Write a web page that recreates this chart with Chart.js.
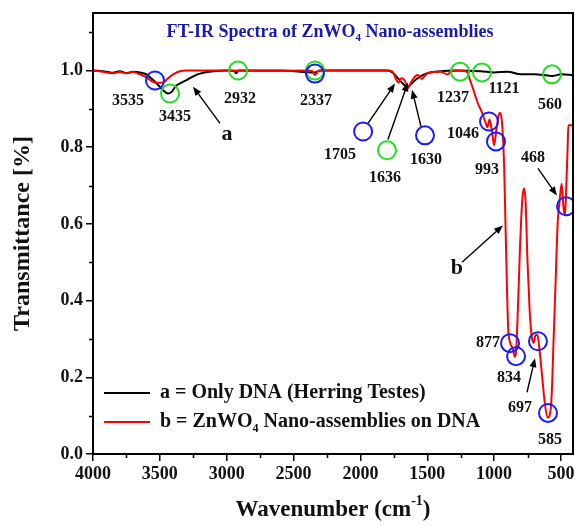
<!DOCTYPE html>
<html>
<head>
<meta charset="utf-8">
<script src="https://cdn.jsdelivr.net/npm/chart.js@4.4.0/dist/chart.umd.min.js"></script>
<style>
  html, body { margin: 0; padding: 0; background: #fff; }
</style>
</head>
<body>
<canvas id="c" width="575" height="526"></canvas>
<script>
'use strict';

// spectrum b: ZnWO4 nano-assemblies on DNA
var redWn = [4000, 3950, 3900, 3850, 3800, 3750, 3700, 3650, 3600, 3560, 3520, 3480, 3440, 3400, 3350, 3300,
  3000, 2700, 2400, 2360, 2340, 2320, 2300, 2000, 1800, 1760, 1730, 1715, 1695, 1670, 1645, 1620, 1590, 1570,
  1540, 1510, 1480, 1400, 1350, 1320, 1240, 1200, 1180, 1158, 1121, 1090, 1060, 1050, 1035, 1015, 1000, 985,
  965, 955, 940, 925, 915, 905, 895, 880, 860, 845, 835, 820, 805, 790, 777, 765, 750, 735, 720, 705, 690,
  675, 660, 640, 620, 600, 585, 570, 555, 540, 525, 510, 495, 480, 470, 460, 450, 445, 430, 410];
var redT = [1.0, 0.998, 0.995, 0.993, 0.996, 0.993, 0.996, 0.99, 0.982, 0.972, 0.968, 0.968, 0.979, 0.99, 0.998, 1.0,
  1.0, 0.999, 1.0, 0.998, 0.988, 0.997, 1.0, 1.0, 1.0, 0.997, 0.975, 0.968, 0.98, 0.975, 0.955, 0.97, 0.985, 0.988,
  0.978, 0.99, 0.995, 0.997, 0.99, 0.998, 1.0, 0.995, 0.975, 0.953, 0.914, 0.89, 0.86, 0.852, 0.872, 0.84, 0.805, 0.84,
  0.885, 0.89, 0.86, 0.75, 0.6, 0.45, 0.33, 0.29, 0.275, 0.253, 0.27, 0.4, 0.55, 0.66, 0.693, 0.66, 0.5, 0.38, 0.31, 0.29, 0.31,
  0.31, 0.27, 0.2, 0.13, 0.095, 0.1, 0.15, 0.3, 0.45, 0.6, 0.66, 0.705, 0.64, 0.622, 0.7, 0.8, 0.857, 0.857, 0.857];

// spectrum a: only DNA (herring testes)
var blackWn = [4000, 3900, 3850, 3800, 3750, 3700, 3650, 3600, 3550, 3520, 3480, 3440, 3410, 3380, 3340, 3300,
  3250, 3200, 3100, 3000, 2940, 2930, 2910, 2600, 2340, 2300, 1800, 1760, 1720, 1680, 1650, 1620, 1580, 1540,
  1500, 1400, 1300, 1100, 1000, 900, 800, 700, 600, 560, 500, 410];
var blackT = [1.0, 0.997, 0.994, 0.998, 0.993, 0.997, 0.995, 0.99, 0.975, 0.965, 0.95, 0.94, 0.945, 0.96, 0.968, 0.975,
  0.985, 0.992, 0.998, 1.0, 0.998, 0.993, 1.0, 1.0, 0.995, 1.0, 1.0, 0.995, 0.98, 0.965, 0.957, 0.965, 0.978, 0.987,
  0.993, 0.998, 1.0, 0.998, 0.995, 0.997, 0.99, 0.99, 0.987, 0.986, 0.99, 0.988];

var xTicks = [4000, 3500, 3000, 2500, 2000, 1500, 1000, 500];
var xMinorTicks = [3750, 3250, 2750, 2250, 1750, 1250, 750];
var yTicks = [0, 0.2, 0.4, 0.6, 0.8, 1.0];
var yMinorTicks = [0.1, 0.3, 0.5, 0.7, 0.9, 1.1];

// marked bands
var greenWn = [3424, 2915, 2340, 1801, 1255, 1091, 567];
var greenT = [0.94, 1.0, 1.0, 0.792, 0.997, 0.995, 0.99];
var blueWn = [3536, 2340, 1980, 1517, 1038, 986, 462, 881, 836, 672, 597];
var blueT = [0.974, 0.992, 0.841, 0.831, 0.867, 0.815, 0.646, 0.289, 0.255, 0.294, 0.107];

var peakText = ['3535', '3435', '2932', '2337', '1705', '1636', '1630', '1237', '1121', '560', '1046', '993', '468', '877', '834', '697', '585'];
var peakWn = [3738, 3387, 2901, 2332, 2153, 1816, 1509, 1307, 926, 582, 1233, 1053, 709, 1046, 889, 807, 582];
var peakT = [0.922, 0.878, 0.927, 0.922, 0.781, 0.721, 0.768, 0.93, 0.953, 0.911, 0.836, 0.74, 0.771, 0.289, 0.198, 0.12, 0.036];

// arrows: tail -> head
var arrowFrom = [[3050, 0.862], [1943, 0.862], [1794, 0.82], [1547, 0.854], [672, 0.745], [1240, 0.5], [754, 0.161]];
var arrowTo = [[3252, 0.958], [1741, 0.966], [1644, 0.969], [1614, 0.95], [530, 0.674], [934, 0.596], [694, 0.25]];
var curveTags = [['a', 2998, 0.833], ['b', 1278, 0.484]];

var FONT = "'Liberation Serif', 'Times New Roman', serif";

function pts(xs, ys) {
  return xs.map(function(x, i) { return { x: x, y: ys[i] }; });
}

// text with sub/superscript pieces: [text, 0 normal | 1 sub | 2 sup]
function drawRich(ctx, parts, x, y, size, align) {
  var total = 0;
  parts.forEach(function(p) {
    ctx.font = 'bold ' + (p[1] ? Math.round(size * 0.62) : size) + 'px ' + FONT;
    total += ctx.measureText(p[0]).width;
  });
  var cx = align === 'center' ? x - total / 2 : x;
  ctx.textAlign = 'left';
  ctx.textBaseline = 'middle';
  parts.forEach(function(p) {
    ctx.font = 'bold ' + (p[1] ? Math.round(size * 0.62) : size) + 'px ' + FONT;
    var dy = p[1] === 1 ? size * 0.35 : (p[1] === 2 ? -size * 0.38 : 0);
    ctx.fillText(p[0], cx, y + dy);
    cx += ctx.measureText(p[0]).width;
  });
}

function drawArrow(ctx, x1, y1, x2, y2) {
  var ang = Math.atan2(y2 - y1, x2 - x1);
  var len = 9, half = 3.5;
  ctx.beginPath();
  ctx.moveTo(x1, y1);
  ctx.lineTo(x2 - Math.cos(ang) * len * 0.8, y2 - Math.sin(ang) * len * 0.8);
  ctx.stroke();
  ctx.beginPath();
  ctx.moveTo(x2, y2);
  ctx.lineTo(x2 - Math.cos(ang) * len + Math.sin(ang) * half, y2 - Math.sin(ang) * len - Math.cos(ang) * half);
  ctx.lineTo(x2 - Math.cos(ang) * len - Math.sin(ang) * half, y2 - Math.sin(ang) * len + Math.cos(ang) * half);
  ctx.closePath();
  ctx.fill();
}

var decorations = {
  id: 'decorations',
  afterDraw: function(chart) {
    var ctx = chart.ctx, a = chart.chartArea;
    var xs = chart.scales.x, ys = chart.scales.y;
    ctx.save();

    // frame
    ctx.strokeStyle = '#000';
    ctx.lineWidth = 2;
    ctx.strokeRect(a.left, a.top, a.right - a.left, a.bottom - a.top);

    // minor ticks
    ctx.lineWidth = 1.5;
    ctx.beginPath();
    xMinorTicks.forEach(function(v) {
      var px = Math.round(xs.getPixelForValue(v)) + 0.5;
      ctx.moveTo(px, a.bottom); ctx.lineTo(px, a.bottom + 4);
    });
    yMinorTicks.forEach(function(v) {
      var py = Math.round(ys.getPixelForValue(v)) + 0.5;
      ctx.moveTo(a.left, py); ctx.lineTo(a.left - 4, py);
    });
    ctx.stroke();

    // arrows
    ctx.fillStyle = '#000';
    ctx.lineWidth = 1.4;
    arrowFrom.forEach(function(f, i) {
      var t = arrowTo[i];
      drawArrow(ctx, xs.getPixelForValue(f[0]), ys.getPixelForValue(f[1]),
        xs.getPixelForValue(t[0]), ys.getPixelForValue(t[1]));
    });

    // peak numbers
    ctx.fillStyle = '#111';
    ctx.font = 'bold 16px ' + FONT;
    ctx.textAlign = 'center';
    ctx.textBaseline = 'middle';
    peakText.forEach(function(txt, i) {
      ctx.fillText(txt, xs.getPixelForValue(peakWn[i]), ys.getPixelForValue(peakT[i]));
    });
    ctx.font = 'bold 22px ' + FONT;
    curveTags.forEach(function(c) {
      ctx.fillText(c[0], xs.getPixelForValue(c[1]), ys.getPixelForValue(c[2]));
    });

    // title inside plot
    ctx.fillStyle = '#1a1aa6';
    drawRich(ctx, [['FT-IR Spectra of ZnWO', 0], ['4', 1], [' Nano-assemblies', 0]],
      330, a.top + 19, 18, 'center');

    // legend
    var lx = a.left + 11, ly = a.bottom - 61;
    ctx.lineWidth = 2.2;
    ctx.strokeStyle = '#000';
    ctx.beginPath(); ctx.moveTo(lx, ly); ctx.lineTo(lx + 46, ly); ctx.stroke();
    ctx.strokeStyle = '#ff0000';
    ctx.beginPath(); ctx.moveTo(lx, ly + 29); ctx.lineTo(lx + 46, ly + 29); ctx.stroke();
    ctx.fillStyle = '#111';
    drawRich(ctx, [['a = Only DNA (Herring Testes)', 0]], lx + 56, ly, 20, 'left');
    drawRich(ctx, [['b = ZnWO', 0], ['4', 1], [' Nano-assemblies on DNA', 0]], lx + 56, ly + 29, 20, 'left');

    // x axis title
    drawRich(ctx, [['Wavenumber (cm', 0], ['-1', 2], [')', 0]], (a.left + a.right) / 2, 510, 23, 'center');

    ctx.restore();
  }
};

new Chart(document.getElementById('c'), {
  type: 'line',
  data: {
    datasets: [{
      label: 'b = ZnWO4 Nano-assemblies on DNA',
      data: pts(redWn, redT),
      borderColor: '#ff0000',
      borderWidth: 2,
      pointRadius: 0,
      cubicInterpolationMode: 'monotone',
      order: 2
    }, {
      label: 'a = Only DNA (Herring Testes)',
      data: pts(blackWn, blackT),
      borderColor: '#000000',
      borderWidth: 2,
      pointRadius: 0,
      cubicInterpolationMode: 'monotone',
      order: 3
    }, {
      label: 'green marks',
      data: pts(greenWn, greenT),
      showLine: false,
      pointRadius: 9,
      pointBorderWidth: 2,
      pointBorderColor: '#22dd22',
      pointBackgroundColor: 'rgba(0,0,0,0)',
      order: 1
    }, {
      label: 'blue marks',
      data: pts(blueWn, blueT),
      showLine: false,
      pointRadius: 9,
      pointBorderWidth: 2,
      pointBorderColor: '#1a1aff',
      pointBackgroundColor: 'rgba(0,0,0,0)',
      order: 0
    }]
  },
  options: {
    responsive: false,
    animation: false,
    devicePixelRatio: 1,
    layout: { autoPadding: false, padding: { top: 13, right: 2, left: 0, bottom: 0 } },
    plugins: { legend: { display: false }, tooltip: { enabled: false } },
    scales: {
      x: {
        type: 'linear',
        reverse: true,
        min: 410,
        max: 4000,
        afterBuildTicks: function(s) { s.ticks = xTicks.map(function(v) { return { value: v }; }); },
        afterFit: function(s) { s.height = 72; s.paddingLeft = 0; s.paddingRight = 0; },
        grid: { drawOnChartArea: false, color: '#000', lineWidth: 1.5, tickLength: 7 },
        border: { display: true, color: '#000', width: 2 },
        ticks: {
          color: '#111', font: { family: FONT, size: 18, weight: 'bold' }, padding: 3, maxRotation: 0,
          callback: function(v) { return String(v); }
        }
      },
      y: {
        min: 0,
        max: 1.15,
        afterBuildTicks: function(s) { s.ticks = yTicks.map(function(v) { return { value: v }; }); },
        afterFit: function(s) { s.width = 93; s.paddingTop = 0; s.paddingBottom = 0; },
        grid: { drawOnChartArea: false, color: '#000', lineWidth: 1.5, tickLength: 7 },
        border: { display: true, color: '#000', width: 2 },
        ticks: {
          color: '#111', font: { family: FONT, size: 18, weight: 'bold' }, padding: 3,
          callback: function(v) { return v.toFixed(1); }
        },
        title: {
          display: true,
          text: 'Transmittance [%]',
          color: '#111',
          font: { family: FONT, size: 24, weight: 'bold' },
          padding: { top: 8, bottom: 0 }
        }
      }
    }
  },
  plugins: [decorations]
});
</script>
</body>
</html>
